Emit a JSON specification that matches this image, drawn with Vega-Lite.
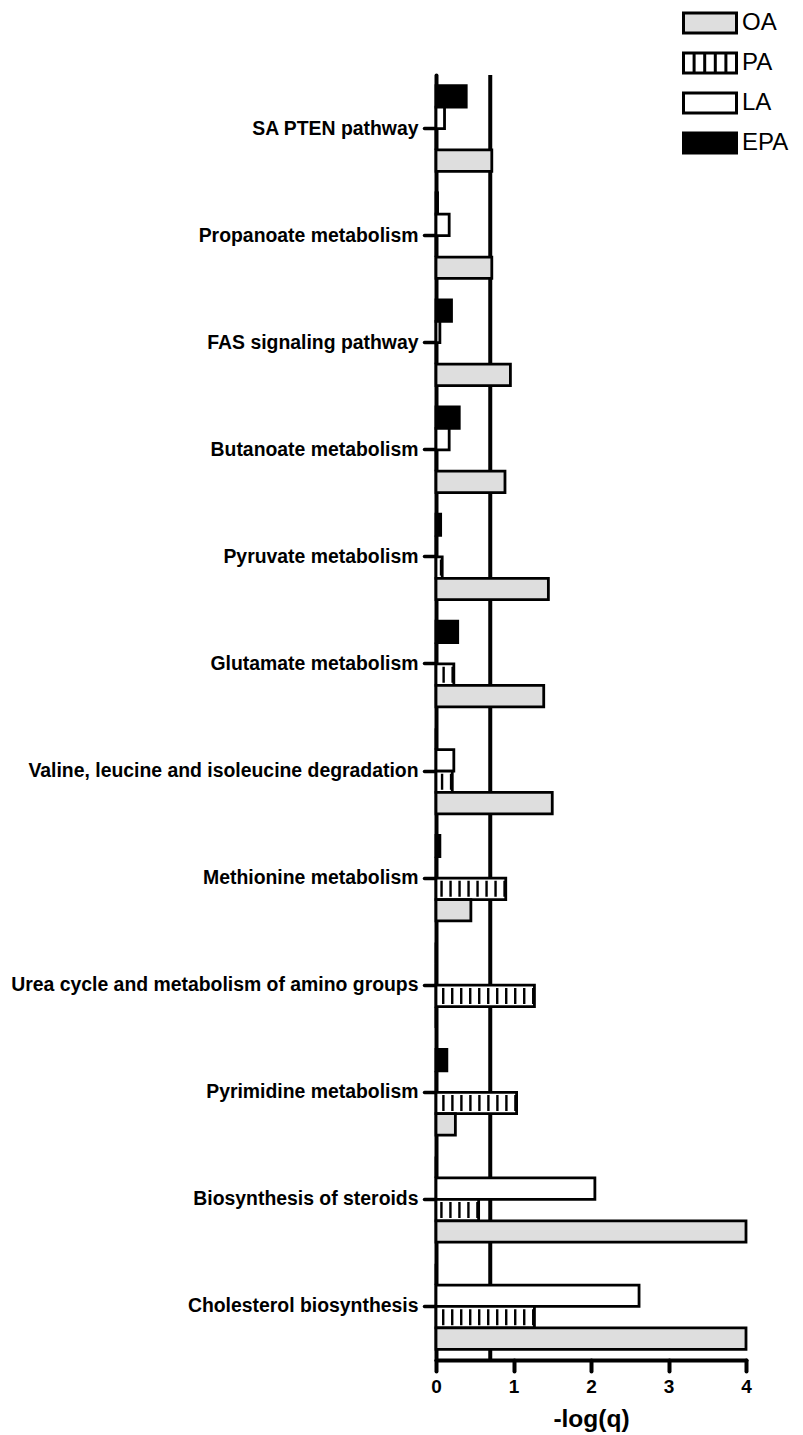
{
  "$schema": "https://vega.github.io/schema/vega-lite/v6.json",
  "width": 310,
  "height": 1285,
  "autosize": {"type": "none"},
  "padding": {"left": 436, "top": 75, "right": 57, "bottom": 75},
  "background": "white",
  "config": {
    "view": {"stroke": null},
    "font": "Liberation Sans",
    "axis": {
      "zindex": 1,
      "grid": false,
      "domainColor": "black",
      "domainWidth": 4,
      "domainCap": "round",
      "tickColor": "black",
      "tickCap": "round",
      "labelColor": "black",
      "labelFont": "Liberation Sans",
      "labelFontWeight": "bold",
      "titleFont": "Liberation Sans",
      "titleColor": "black"
    }
  },
  "datasets": {
    "bars": [
      {"pathway": "SA PTEN pathway", "fa": "EPA", "v": 0.39},
      {"pathway": "SA PTEN pathway", "fa": "LA", "v": 0.11},
      {"pathway": "SA PTEN pathway", "fa": "PA", "v": 0},
      {"pathway": "SA PTEN pathway", "fa": "OA", "v": 0.72},
      {"pathway": "Propanoate metabolism", "fa": "EPA", "v": 0.02},
      {"pathway": "Propanoate metabolism", "fa": "LA", "v": 0.17},
      {"pathway": "Propanoate metabolism", "fa": "PA", "v": 0},
      {"pathway": "Propanoate metabolism", "fa": "OA", "v": 0.72},
      {"pathway": "FAS signaling pathway", "fa": "EPA", "v": 0.2},
      {"pathway": "FAS signaling pathway", "fa": "LA", "v": 0.05},
      {"pathway": "FAS signaling pathway", "fa": "PA", "v": 0},
      {"pathway": "FAS signaling pathway", "fa": "OA", "v": 0.96},
      {"pathway": "Butanoate metabolism", "fa": "EPA", "v": 0.3},
      {"pathway": "Butanoate metabolism", "fa": "LA", "v": 0.17},
      {"pathway": "Butanoate metabolism", "fa": "PA", "v": 0},
      {"pathway": "Butanoate metabolism", "fa": "OA", "v": 0.89},
      {"pathway": "Pyruvate metabolism", "fa": "EPA", "v": 0.06},
      {"pathway": "Pyruvate metabolism", "fa": "LA", "v": 0},
      {"pathway": "Pyruvate metabolism", "fa": "PA", "v": 0.08},
      {"pathway": "Pyruvate metabolism", "fa": "OA", "v": 1.45},
      {"pathway": "Glutamate metabolism", "fa": "EPA", "v": 0.28},
      {"pathway": "Glutamate metabolism", "fa": "LA", "v": 0},
      {"pathway": "Glutamate metabolism", "fa": "PA", "v": 0.23},
      {"pathway": "Glutamate metabolism", "fa": "OA", "v": 1.39},
      {"pathway": "Valine, leucine and isoleucine degradation", "fa": "EPA", "v": 0},
      {"pathway": "Valine, leucine and isoleucine degradation", "fa": "LA", "v": 0.23},
      {"pathway": "Valine, leucine and isoleucine degradation", "fa": "PA", "v": 0.21},
      {"pathway": "Valine, leucine and isoleucine degradation", "fa": "OA", "v": 1.5},
      {"pathway": "Methionine metabolism", "fa": "EPA", "v": 0.05},
      {"pathway": "Methionine metabolism", "fa": "LA", "v": 0},
      {"pathway": "Methionine metabolism", "fa": "PA", "v": 0.9},
      {"pathway": "Methionine metabolism", "fa": "OA", "v": 0.45},
      {"pathway": "Urea cycle and metabolism of amino groups", "fa": "EPA", "v": 0},
      {"pathway": "Urea cycle and metabolism of amino groups", "fa": "LA", "v": 0},
      {"pathway": "Urea cycle and metabolism of amino groups", "fa": "PA", "v": 1.27},
      {"pathway": "Urea cycle and metabolism of amino groups", "fa": "OA", "v": 0},
      {"pathway": "Pyrimidine metabolism", "fa": "EPA", "v": 0.14},
      {"pathway": "Pyrimidine metabolism", "fa": "LA", "v": 0},
      {"pathway": "Pyrimidine metabolism", "fa": "PA", "v": 1.04},
      {"pathway": "Pyrimidine metabolism", "fa": "OA", "v": 0.25},
      {"pathway": "Biosynthesis of steroids", "fa": "EPA", "v": 0},
      {"pathway": "Biosynthesis of steroids", "fa": "LA", "v": 2.05},
      {"pathway": "Biosynthesis of steroids", "fa": "PA", "v": 0.55},
      {"pathway": "Biosynthesis of steroids", "fa": "OA", "v": 4.0},
      {"pathway": "Cholesterol biosynthesis", "fa": "EPA", "v": 0},
      {"pathway": "Cholesterol biosynthesis", "fa": "LA", "v": 2.62},
      {"pathway": "Cholesterol biosynthesis", "fa": "PA", "v": 1.27},
      {"pathway": "Cholesterol biosynthesis", "fa": "OA", "v": 4.0}
    ],
    "thr": [{"q": 0.7}]
  },
  "layer": [
    {
      "data": {"name": "thr"},
      "mark": {"type": "rule", "strokeWidth": 4, "color": "black"},
      "encoding": {
        "x": {"field": "q", "type": "quantitative"}
      }
    },
    {
      "data": {"name": "bars"},
      "mark": {"type": "bar", "stroke": "black", "strokeWidth": 2.8},
      "encoding": {
        "y": {
          "field": "pathway",
          "type": "nominal",
          "sort": ["SA PTEN pathway", "Propanoate metabolism", "FAS signaling pathway", "Butanoate metabolism", "Pyruvate metabolism", "Glutamate metabolism", "Valine, leucine and isoleucine degradation", "Methionine metabolism", "Urea cycle and metabolism of amino groups", "Pyrimidine metabolism", "Biosynthesis of steroids", "Cholesterol biosynthesis"],
          "scale": {"paddingInner": 0.2, "paddingOuter": 0.1},
          "axis": {"title": null, "tickSize": 12, "tickWidth": 3.5, "labelFontSize": 19.4, "labelPadding": 6, "labelLimit": 600}
        },
        "yOffset": {
          "field": "fa",
          "type": "nominal",
          "sort": ["EPA", "LA", "PA", "OA"],
          "scale": {"paddingInner": 0, "paddingOuter": 0}
        },
        "x": {
          "field": "v",
          "type": "quantitative",
          "scale": {"domain": [0, 4], "nice": false},
          "axis": {"title": "-log(q)", "values": [0, 1, 2, 3, 4], "format": "d", "labelFlush": false, "tickSize": 11, "tickWidth": 4, "labelFontSize": 19, "labelPadding": 6, "titleFontSize": 24.5, "titleFontWeight": "bold", "titlePadding": 11}
        },
        "fill": {
          "field": "fa",
          "type": "nominal",
          "scale": {"domain": ["OA", "PA", "LA", "EPA"], "range": ["#dedede", "#ffffff", "#ffffff", "#000000"]},
          "legend": {
            "orient": "none",
            "legendX": 262,
            "legendY": -64,
            "title": null,
            "padding": 0,
            "symbolType": "M-2.65,-1H2.65V1H-2.65Z",
            "symbolSize": 400,
            "symbolStrokeColor": "black",
            "symbolStrokeWidth": 3,
            "labelFontSize": 24,
            "labelFont": "Liberation Sans",
            "labelColor": "black",
            "labelOffset": 20,
            "rowPadding": 8,
            "encode": {
              "symbols": {
                "update": {
                  "shape": {"signal": "datum.value === 'PA' ? 'M-2.65,-1H2.65V1H-2.65Z M-1.59,-1V1 M-0.53,-1V1 M0.53,-1V1 M1.59,-1V1' : 'M-2.65,-1H2.65V1H-2.65Z'"}
                }
              }
            }
          }
        }
      }
    },
    {
      "data": {"name": "bars"},
      "transform": [{"filter": "datum.fa === 'PA'"}],
      "mark": {"type": "rule", "strokeWidth": 16, "strokeDash": [2.4, 6.6], "color": "black", "yOffset": 10.7},
      "encoding": {
        "y": {
          "field": "pathway",
          "type": "nominal",
          "sort": ["SA PTEN pathway", "Propanoate metabolism", "FAS signaling pathway", "Butanoate metabolism", "Pyruvate metabolism", "Glutamate metabolism", "Valine, leucine and isoleucine degradation", "Methionine metabolism", "Urea cycle and metabolism of amino groups", "Pyrimidine metabolism", "Biosynthesis of steroids", "Cholesterol biosynthesis"]
        },
        "x": {"field": "v", "type": "quantitative"},
        "x2": {"datum": 0}
      }
    }
  ]
}
